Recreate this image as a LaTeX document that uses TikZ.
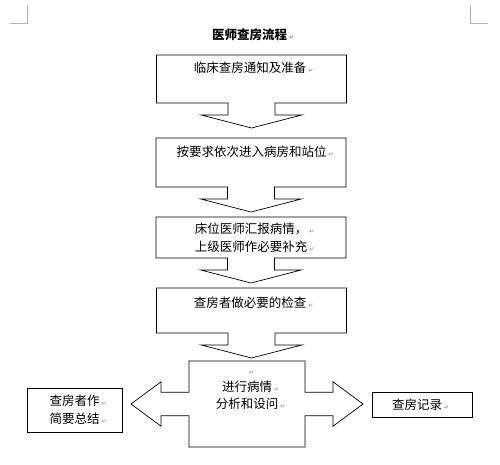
\documentclass[tikz,border=0pt]{standalone}
\usepackage{fontspec}
\usepackage{tikz}
\usetikzlibrary{positioning,shapes.arrows}
\newfontfamily\cjk{Noto Sans CJK SC}
\newfontfamily\retfont{DejaVu Sans}
\newcommand{\parmark}{\rlap{\,\textcolor{gray}{\retfont\fontsize{6}{6}\selectfont ↵}}}

\begin{document}
\begin{tikzpicture}[
  x=1pt, y=-1pt,
  stepbox/.style={arrow box, draw, line width=0.7pt, inner sep=0pt, outer sep=0pt, minimum width=190pt, align=center, font=\cjk\fontsize{12.5}{18}\selectfont},
  downarr/.style={arrow box arrows={south:25pt}, arrow box shaft width=47pt, arrow box head extend=26.5pt, arrow box tip angle=151},
  sidearr/.style={arrow box arrows={east:58pt, west:58pt}, arrow box shaft width=23.5pt, arrow box head extend=10.5pt, arrow box tip angle=73},
  endbox/.style={draw, line width=0.7pt, inner sep=0pt, outer sep=0pt, align=center, font=\cjk\fontsize{12.5}{18}\selectfont},
  txt/.style={inner sep=0pt, align=center, font=\cjk\fontsize{12.5}{17}\selectfont},
  title/.style={inner sep=0pt, font=\cjk\bfseries\fontsize{12.5}{15}\selectfont},
  crop/.style={gray!60, line width=0.6pt},
]
\useasboundingbox (0,0) rectangle (500,465);

% --- Page corner marks ---
\draw[crop] (10,23) -- (27,23) -- (27,5);
\draw[crop] (488,23) -- (470,23) -- (470,5);

% --- Title ---
\node[title] (title) at (249.5,35) {医师查房流程\parmark};

% --- Main column ---
\node[stepbox, downarr, minimum height=48pt] (s1) at (251.5,79) {};
\node[stepbox, downarr, minimum height=49pt] (s2) at (251,162.5) {};
\node[stepbox, downarr, minimum height=41pt] (s3) at (251,237.5) {床位医师汇报病情，\parmark\\上级医师作必要补充\parmark};
\node[stepbox, downarr, minimum height=45pt] (s4) at (251.5,310.5) {};
\node[stepbox, sidearr, minimum width=116pt, minimum height=86pt] (ana) at (247,404) {};

% --- Texts at the top of the boxes ---
\node[txt] (t1) at (250,68) {临床查房通知及准备\parmark};
\node[txt] (t2) at (251.5,152) {按要求依次进入病房和站位\parmark};
\node[txt] (t4) at (250,303) {查房者做必要的检查\parmark};
\node[txt] (ta) at (247,390) {\parmark\\进行病情\parmark\\分析和设问\parmark};

% --- Side boxes ---
\node[endbox, minimum width=95pt, minimum height=44pt] (summ) at (74.5,410) {查房者作\parmark\\简要总结\parmark};
\node[endbox, minimum width=100pt, minimum height=25pt] (rec) at (422,404.5) {\hspace*{-10pt}查房记录\parmark};
\end{tikzpicture}
\end{document}
